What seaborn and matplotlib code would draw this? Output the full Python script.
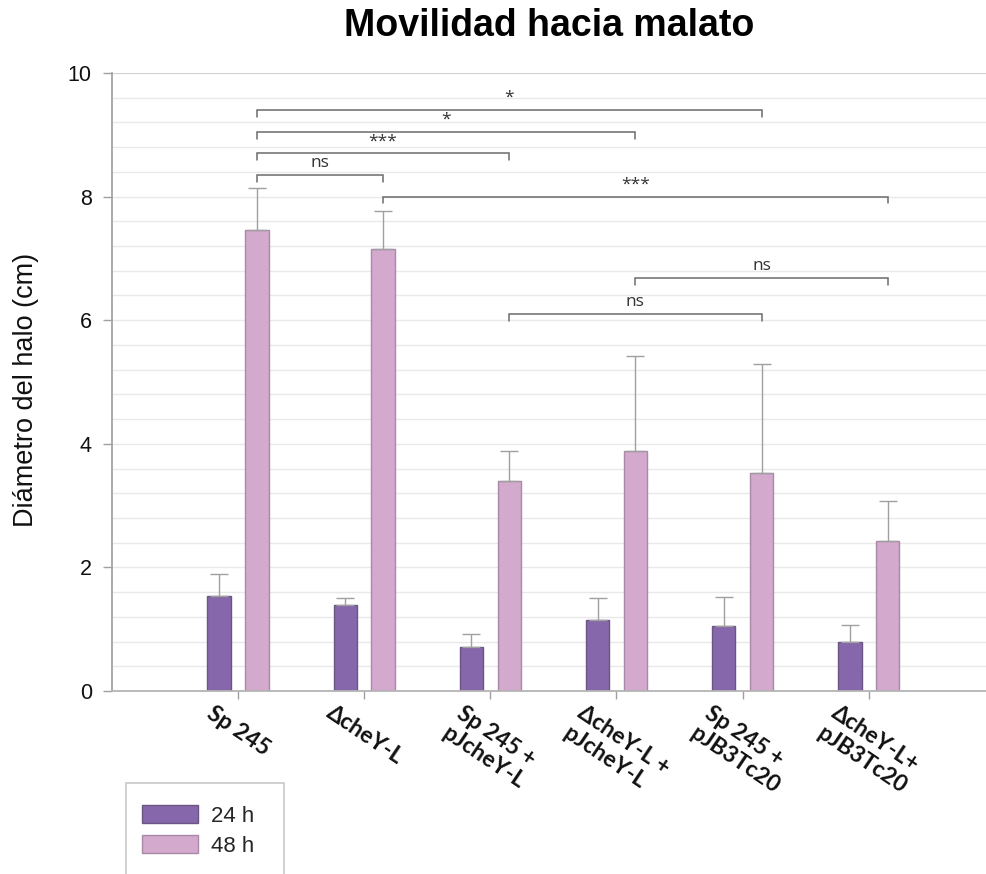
import numpy as np
import pandas as pd
import matplotlib
matplotlib.use("Agg")
import matplotlib.pyplot as plt
from matplotlib.ticker import MultipleLocator
from matplotlib.patches import Patch, Rectangle
import seaborn as sns

# ---- data -------------------------------------------------------------
strains = ["Sp 245", "ΔcheY-L", "Sp 245 +\npJcheY-L", "ΔcheY-L +\npJcheY-L",
           "Sp 245 +\npJB3Tc20", "ΔcheY-L+\npJB3Tc20"]
times = ["24 h", "48 h"]
halo_24h = [1.54, 1.39, 0.72, 1.15, 1.05, 0.80]
halo_48h = [7.46, 7.16, 3.40, 3.88, 3.52, 2.42]
sd_24h = [0.35, 0.12, 0.21, 0.36, 0.47, 0.27]
sd_48h = [0.68, 0.60, 0.48, 1.54, 1.77, 0.66]

# significance brackets: (strain a, strain b, height, label) between 48 h bars
brackets = [
    (0, 4, 9.40, "*"),
    (0, 3, 9.05, "*"),
    (0, 2, 8.70, "***"),
    (0, 1, 8.35, "ns"),
    (1, 5, 8.00, "***"),
    (3, 5, 6.68, "ns"),
    (2, 4, 6.10, "ns"),
]

colors = {"24 h": "#8767AC", "48 h": "#D4A9CE"}
edges = {"24 h": "#6a5585", "48 h": "#a88aa6"}

df = pd.DataFrame({
    "cepa": strains * 2,
    "tiempo": [times[0]] * len(strains) + [times[1]] * len(strains),
    "halo": halo_24h + halo_48h,
    "sd": sd_24h + sd_48h,
})

# ---- figure -----------------------------------------------------------
sns.set_theme(style="white")
plt.rcParams["font.family"] = ["Liberation Sans", "DejaVu Sans"]

W, H = 987, 874
fig = plt.figure(figsize=(W / 100, H / 100), dpi=100)
ax = fig.add_axes([112 / W, 1 - 691 / H, (986 - 112) / W, (691 - 73) / H])

sns.barplot(data=df, x="cepa", y="halo", hue="tiempo", order=strains,
            hue_order=times, palette=colors, width=0.6, gap=0.38,
            errorbar=None, saturation=1, linewidth=1, ax=ax, legend=False)

# bar edges and upper error bars
n = len(strains)
centers = {}
for k, t in enumerate(times):
    sub = df[df["tiempo"] == t].set_index("cepa").loc[strains]
    for i, bar in enumerate(ax.patches[k * n:(k + 1) * n]):
        bar.set_edgecolor(edges[t])
        cx = bar.get_x() + bar.get_width() / 2
        centers[(i, t)] = cx
    xs = [centers[(i, t)] for i in range(n)]
    ax.errorbar(xs, sub["halo"], yerr=[np.zeros(n), sub["sd"]], fmt="none",
                ecolor="#a0a0a0", elinewidth=1, capsize=6.8, capthick=1,
                zorder=3)

# significance brackets
for a, b, y, lab in brackets:
    xa, xb = centers[(a, "48 h")], centers[(b, "48 h")]
    ax.plot([xa, xa, xb, xb], [y - 0.11, y, y, y - 0.11], color="#6b6b6b",
            lw=1.1, solid_joinstyle="miter", zorder=4, clip_on=False)
    ax.annotate(lab, xy=((xa + xb) / 2, y), xytext=(0, 3),
                textcoords="offset points", ha="center", va="bottom",
                fontsize=12.5, color="#333333",
                family=["Open Sans", "DejaVu Sans"])

# axes styling
ax.set_xlim(-1.0, 5.93)
ax.set_ylim(0, 10)
ax.yaxis.set_major_locator(MultipleLocator(2))
ax.yaxis.set_minor_locator(MultipleLocator(0.4))
ax.grid(axis="y", which="both", color="#e9e9e9", lw=1)
ax.set_axisbelow(True)
for s in ["top", "right"]:
    ax.spines[s].set_visible(False)
ax.spines["left"].set_color("#a0a0a0")
ax.spines["bottom"].set_color("#b4b4b4")
ax.spines["bottom"].set_linewidth(1.3)
ax.axhline(10, color="#cfcfcf", lw=1.3, zorder=1)
ax.tick_params(axis="y", which="major", left=True, length=6.5, width=1,
               color="#a0a0a0", pad=8, labelsize=15.5, labelcolor="#111111")
ax.tick_params(axis="y", which="minor", left=False)
ax.tick_params(axis="x", bottom=True, length=6, width=1, color="#a0a0a0",
               pad=2)
ax.set_xlabel("")
ax.set_ylabel("")
ax.set_xticks(range(n))
ax.set_xticklabels(strains, rotation=-34, ha="center", va="top",
                   multialignment="left", linespacing=1.25, fontsize=16.5,
                   fontweight="bold", family=["Lato", "DejaVu Sans"],
                   color="#111111")

# titles
fig.text(549 / W, 1 - 26 / H, "Movilidad hacia malato", ha="center",
         va="center", fontsize=27, fontweight="bold", color="#000000")
fig.text(26 / W, 1 - 390 / H, "Diámetro del halo (cm)", rotation=90,
         ha="center", va="center", fontsize=19.5, color="#111111")

# legend
fig.patches.append(Rectangle((126 / W, 1 - 880 / H), (284 - 126) / W,
                             (880 - 783) / H, transform=fig.transFigure,
                             facecolor="white", edgecolor="#c8c8c8", lw=1.2,
                             zorder=0))
handles = [Patch(facecolor=colors[t], edgecolor=edges[t], lw=1) for t in times]
fig.legend(handles, times, loc="upper left",
           bbox_to_anchor=(142 / W, 1 - 805 / H), frameon=False,
           fontsize=16, handlelength=2.5, handleheight=0.85, borderpad=0,
           borderaxespad=0, labelspacing=0.4, handletextpad=0.6)

fig.savefig("out.png", dpi=100)
